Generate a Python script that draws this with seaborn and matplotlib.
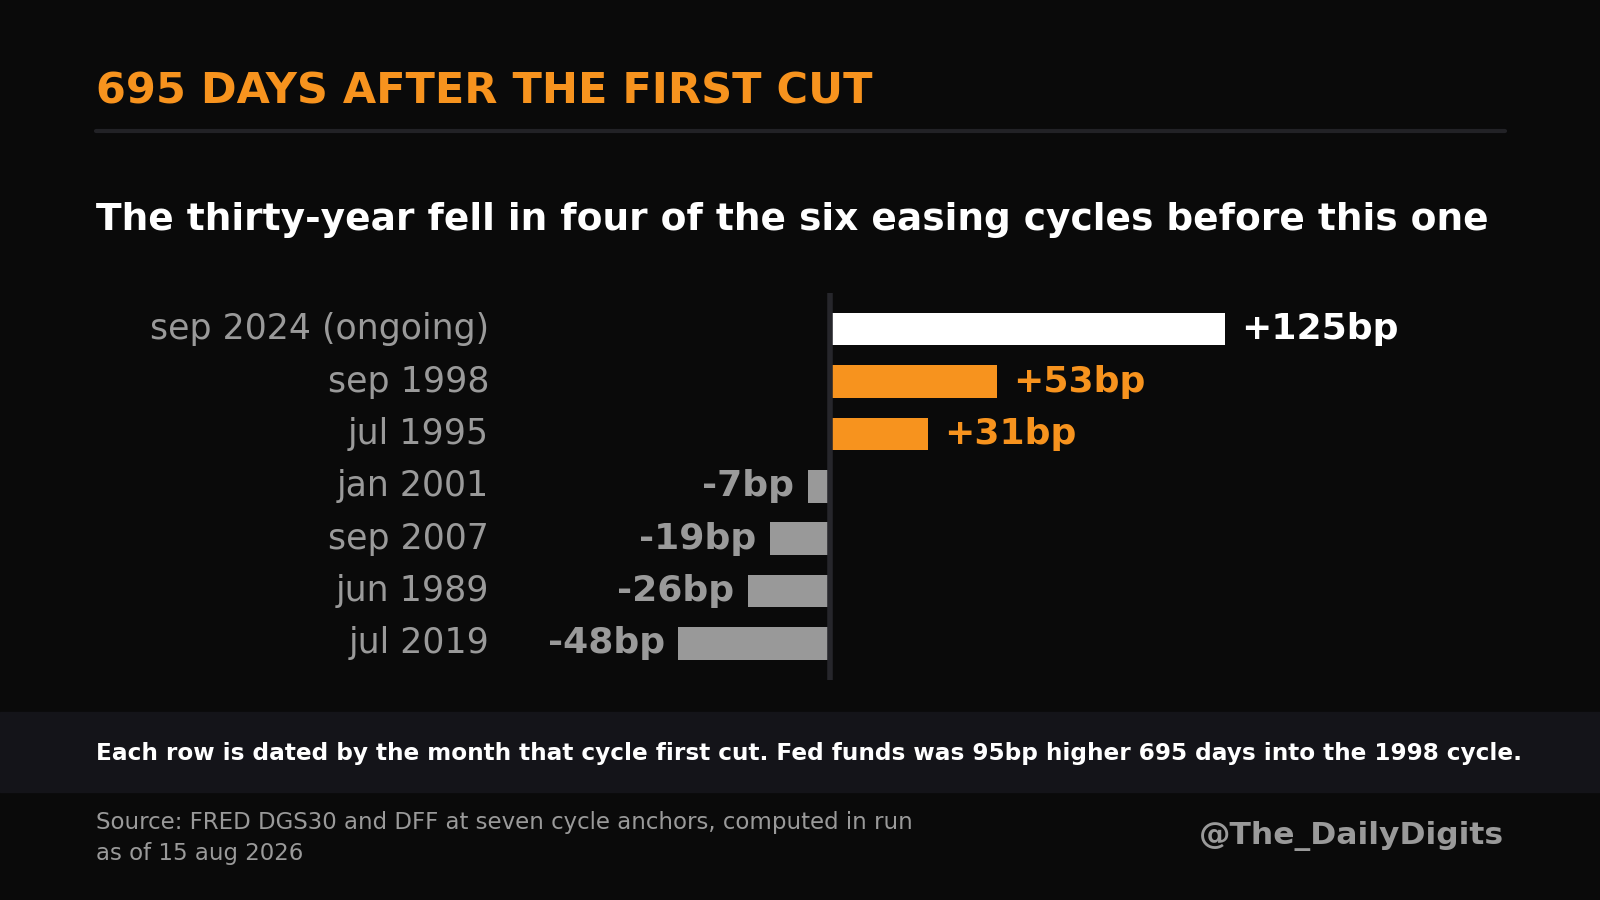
import matplotlib
matplotlib.use("Agg")
import matplotlib.pyplot as plt
import seaborn as sns
import pandas as pd

# datos
cycles = ["sep 2024 (ongoing)", "sep 1998", "jul 1995", "jan 2001",
          "sep 2007", "jun 1989", "jul 2019"]
change_bp = [125, 53, 31, -7, -19, -26, -48]
bar_colors = ["#ffffff", "#f7931e", "#f7931e", "#999999", "#999999", "#999999", "#999999"]

BG = "#0a0a0a"
ORANGE = "#f7931e"
GREY = "#9a9a9a"

sns.set_theme(style="dark")
plt.rcParams["font.family"] = ["DejaVu Sans"]

df = pd.DataFrame({"cycle": cycles, "bp": change_bp})

fig = plt.figure(figsize=(16, 9), dpi=100, facecolor=BG)
ax = fig.add_axes([512 / 1600, 1 - 679.6 / 900, (1505 - 512) / 1600, (679.6 - 293) / 900])
ax.set_facecolor(BG)

sns.barplot(data=df, x="bp", y="cycle", hue="cycle", palette=bar_colors,
            orient="h", width=0.62, legend=False, ax=ax, saturation=1,
            linewidth=0, edgecolor="none")

ax.set_xlim(-100.5, 213.5)
ax.set_ylim(6.69, -0.69)
ax.axvline(0, color="#26262b", lw=4, zorder=5)

for i, v in enumerate(change_bp):
    lab = f"+{v}bp" if v > 0 else f"{v}bp"
    col = bar_colors[i] if v > 0 else GREY
    if v > 0:
        ax.text(v + 5, i, lab, color=col, fontsize=26, fontweight="bold",
                ha="left", va="center")
    else:
        ax.text(v - 4.2, i, lab, color=col, fontsize=26, fontweight="bold",
                ha="right", va="center")

ax.set_xlabel("")
ax.set_ylabel("")
ax.set_xticks([])
ax.tick_params(axis="y", length=0, pad=16.5, labelsize=25, labelcolor=GREY)
for t in ax.get_yticklabels():
    t.set_verticalalignment("center")
ax.grid(False)
for s in ax.spines.values():
    s.set_visible(False)

# titulos
fig.text(96 / 1600, 0.8852, "695 DAYS AFTER THE FIRST CUT", color=ORANGE,
         fontsize=31, fontweight="bold", va="baseline")
fig.add_artist(plt.Line2D([96 / 1600, 1505 / 1600], [1 - 131 / 900] * 2,
                          color="#222226", lw=3))
fig.text(96 / 1600, 0.7440,
         "The thirty-year fell in four of the six easing cycles before this one",
         color="white", fontsize=27, fontweight="bold", va="baseline")

# banda inferior
fig.add_artist(plt.Rectangle((0, 1 - 792 / 900), 1, 80 / 900, color="#141419",
                             transform=fig.transFigure, zorder=0))
fig.text(96 / 1600, 0.1556,
         "Each row is dated by the month that cycle first cut. Fed funds was 95bp higher 695 days into the 1998 cycle.",
         color="white", fontsize=16.7, fontweight="bold", va="baseline")
fig.text(96 / 1600, 0.0793, "Source: FRED DGS30 and DFF at seven cycle anchors, computed in run",
         color=GREY, fontsize=16.5, va="baseline")
fig.text(96 / 1600, 0.0444, "as of 15 aug 2026", color=GREY, fontsize=16.5, va="baseline")
fig.text(1504 / 1600, 0.0620, "@The_DailyDigits", color=GREY, fontsize=22.6,
         fontweight="bold", ha="right", va="baseline")

fig.savefig("out.png", dpi=100, facecolor=BG)
